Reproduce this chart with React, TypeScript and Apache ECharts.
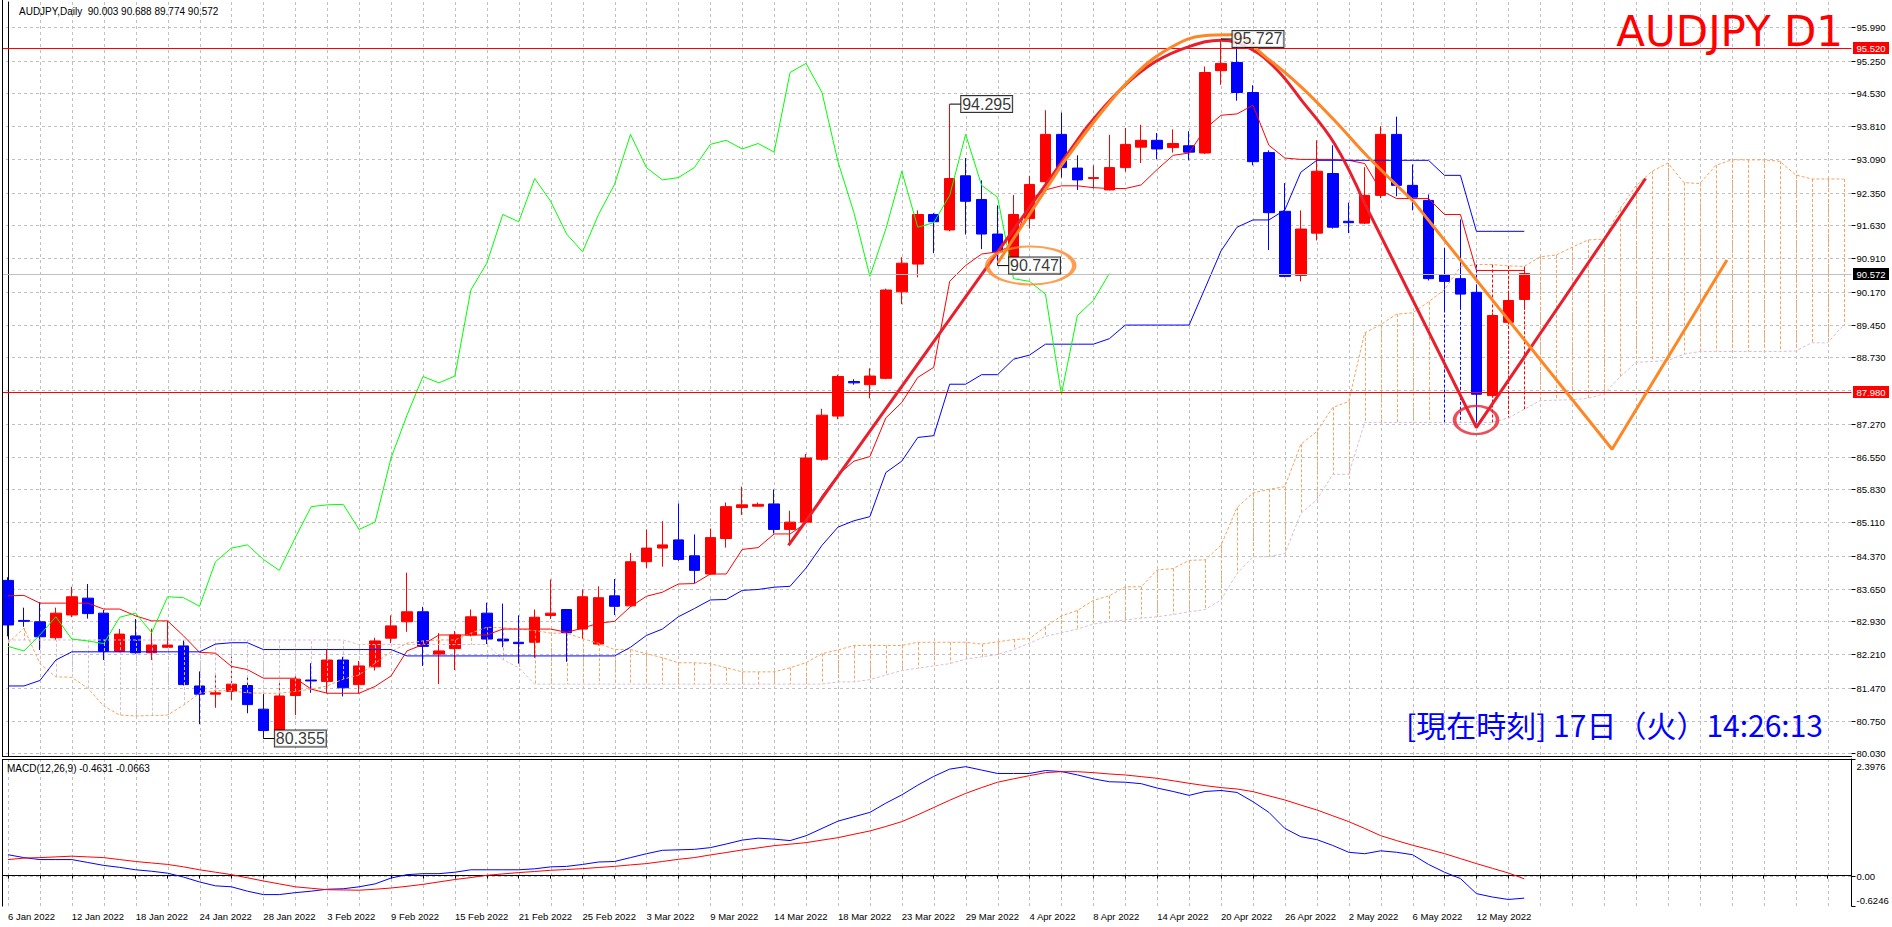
import React, { useEffect, useRef } from "react";
import * as echarts from "echarts";

// ---------- data ----------
const dates = ["6 Jan 2022","7 Jan 2022","10 Jan 2022","11 Jan 2022","12 Jan 2022","13 Jan 2022","14 Jan 2022","17 Jan 2022","18 Jan 2022","19 Jan 2022","20 Jan 2022","21 Jan 2022","24 Jan 2022","25 Jan 2022","26 Jan 2022","27 Jan 2022","28 Jan 2022","31 Jan 2022","1 Feb 2022","2 Feb 2022","3 Feb 2022","4 Feb 2022","7 Feb 2022","8 Feb 2022","9 Feb 2022","10 Feb 2022","11 Feb 2022","14 Feb 2022","15 Feb 2022","16 Feb 2022","17 Feb 2022","18 Feb 2022","21 Feb 2022","22 Feb 2022","23 Feb 2022","24 Feb 2022","25 Feb 2022","28 Feb 2022","1 Mar 2022","2 Mar 2022","3 Mar 2022","4 Mar 2022","7 Mar 2022","8 Mar 2022","9 Mar 2022","10 Mar 2022","11 Mar 2022","13 Mar 2022","14 Mar 2022","15 Mar 2022","16 Mar 2022","17 Mar 2022","18 Mar 2022","20 Mar 2022","21 Mar 2022","22 Mar 2022","23 Mar 2022","24 Mar 2022","25 Mar 2022","28 Mar 2022","29 Mar 2022","30 Mar 2022","31 Mar 2022","1 Apr 2022","4 Apr 2022","5 Apr 2022","6 Apr 2022","7 Apr 2022","8 Apr 2022","11 Apr 2022","12 Apr 2022","13 Apr 2022","14 Apr 2022","15 Apr 2022","18 Apr 2022","19 Apr 2022","20 Apr 2022","21 Apr 2022","22 Apr 2022","25 Apr 2022","26 Apr 2022","27 Apr 2022","28 Apr 2022","29 Apr 2022","2 May 2022","3 May 2022","4 May 2022","5 May 2022","6 May 2022","9 May 2022","10 May 2022","11 May 2022","12 May 2022","13 May 2022","16 May 2022","17 May 2022"];

const opens = [83.83,82.95,82.92,82.57,83.07,83.44,83.11,82.27,82.61,82.24,82.36,82.39,81.51,81.33,81.39,81.52,81.00,80.54,81.30,81.64,81.61,82.08,81.54,81.93,82.56,82.92,83.14,82.21,82.33,82.63,83.11,82.54,82.47,82.47,83.06,83.19,82.76,82.43,83.49,83.27,84.24,84.54,84.72,84.37,83.97,84.75,85.43,85.46,85.51,84.95,85.11,86.49,87.44,88.20,88.13,88.27,90.17,90.78,91.87,91.53,92.72,92.20,91.44,90.93,91.78,92.59,93.63,92.89,92.66,92.41,92.90,93.35,93.50,93.34,93.38,93.22,95.03,95.21,94.55,93.23,91.94,90.53,91.46,92.77,91.72,91.68,92.29,93.63,92.51,92.18,90.55,90.46,90.16,87.89,89.50,90.003];
const highs = [83.90,83.23,83.35,83.23,83.69,83.75,83.18,82.76,82.98,82.77,82.94,82.51,81.83,81.77,82.15,81.73,81.33,81.62,81.75,82.01,82.30,82.15,82.06,82.57,83.06,84.00,83.25,82.67,82.72,83.19,83.34,83.32,83.06,83.19,83.85,83.20,83.63,83.70,83.86,84.43,84.95,85.13,85.52,84.84,84.97,85.54,85.89,85.54,85.83,85.36,86.61,87.60,88.35,88.25,88.49,90.24,90.93,91.96,91.90,94.295,93.11,92.62,92.07,92.30,92.72,94.16,94.11,93.17,92.95,93.62,93.77,93.84,93.66,93.74,93.70,95.12,95.727,95.62,94.71,93.28,92.56,91.96,93.50,93.39,92.13,92.91,93.81,94.02,92.97,92.31,91.14,91.76,90.31,89.70,90.16,90.688];
const lows = [82.60,82.81,82.30,82.52,83.02,82.99,82.08,82.25,82.22,82.08,82.35,81.52,80.67,81.03,81.20,80.91,80.355,80.50,80.87,81.36,81.35,81.28,81.35,81.85,82.45,82.70,81.95,81.55,81.86,82.60,82.43,82.36,82.00,82.13,82.98,82.04,82.54,82.40,83.07,83.25,84.10,84.13,84.26,83.77,83.95,84.55,85.27,85.45,84.86,84.60,85.08,86.46,87.37,88.13,87.83,88.25,89.90,90.49,91.02,91.50,91.43,91.11,90.747,90.90,91.56,92.55,92.68,92.41,92.44,92.40,92.81,93.00,93.08,93.23,93.06,93.20,94.72,94.37,92.95,91.09,90.49,90.40,91.30,91.56,91.46,91.66,92.23,92.27,91.96,90.42,89.73,89.83,87.28,87.85,89.45,89.774];
const closes = [82.85,82.93,82.59,83.11,83.47,83.10,82.27,82.65,82.24,82.41,82.41,81.54,81.33,81.36,81.55,81.10,80.53,81.29,81.66,81.62,82.08,81.47,81.95,82.50,82.83,83.14,82.38,82.28,82.63,83.03,82.54,82.50,82.44,83.02,83.11,82.68,83.47,83.45,83.26,84.24,84.54,84.61,84.29,84.05,84.77,85.45,85.49,85.50,84.95,85.11,86.52,87.46,88.31,88.17,88.32,90.21,90.80,91.87,91.71,92.66,92.16,91.44,91.05,91.87,92.53,93.63,92.90,92.63,92.68,92.90,93.41,93.50,93.31,93.43,93.24,94.99,95.19,94.55,93.03,91.91,90.51,91.55,92.82,91.59,91.69,92.29,93.63,92.51,92.25,90.46,90.40,90.12,87.92,89.65,89.98,90.572];

const tenkan = [83.49,83.50,83.33,83.33,83.33,83.33,83.20,83.20,83.05,82.94,82.94,82.61,82.25,82.23,81.94,81.87,81.68,81.68,81.68,81.44,81.35,81.35,81.35,81.50,81.73,82.28,82.42,82.63,82.63,82.63,82.63,82.76,82.76,82.76,82.76,82.69,82.78,82.89,82.93,83.25,83.48,83.57,83.75,83.76,83.97,83.97,84.51,84.55,84.85,84.85,85.09,85.69,86.15,86.45,86.55,87.40,87.74,88.29,88.51,90.40,90.75,91.00,91.05,91.20,92.20,92.41,92.50,92.50,92.46,92.44,92.44,92.52,92.86,93.17,93.22,93.75,94.05,94.08,94.27,93.39,93.11,93.08,93.08,93.08,93.06,92.99,92.40,92.22,92.22,92.22,91.87,91.87,90.64,90.64,90.64,90.64];
const kijun = [81.51,81.51,81.63,82.08,82.26,82.26,82.26,82.26,82.26,82.26,82.26,82.26,82.26,82.43,82.46,82.46,82.31,82.31,82.31,82.31,82.31,82.31,82.31,82.31,82.31,82.17,82.17,82.17,82.17,82.17,82.17,82.17,82.17,82.17,82.17,82.17,82.17,82.17,82.17,82.36,82.62,82.76,83.03,83.21,83.40,83.41,83.61,83.63,83.68,83.70,84.10,84.60,85.00,85.14,85.23,86.20,86.45,86.97,87.01,88.14,88.14,88.35,88.35,88.69,88.78,89.02,89.02,89.02,89.02,89.14,89.44,89.44,89.44,89.44,89.44,90.25,91.07,91.59,91.75,91.75,91.97,92.80,93.06,93.06,93.06,93.06,93.06,93.06,93.06,93.06,92.73,92.73,91.50,91.50,91.50,91.50];
const senkouA = [82.45,82.78,82.00,81.71,81.70,81.46,81.07,80.87,80.85,80.86,80.87,81.09,81.35,81.41,81.40,81.36,81.35,81.35,81.39,81.44,81.51,81.66,81.75,82.01,82.26,82.45,82.50,82.52,82.52,82.67,82.80,82.79,82.76,82.73,82.67,82.67,82.55,82.45,82.31,82.31,82.22,82.13,82.02,82.02,82.00,81.91,81.82,81.82,81.82,81.91,82.02,82.22,82.30,82.40,82.40,82.40,82.40,82.47,82.47,82.47,82.47,82.43,82.48,82.53,82.55,82.81,83.05,83.17,83.39,83.49,83.69,83.69,84.06,84.09,84.27,84.28,84.60,85.43,85.75,85.83,85.89,86.82,87.10,87.63,87.76,89.27,89.45,89.68,89.71,89.95,90.22,90.72,90.77,90.77,90.74,90.73,90.94,90.98,91.15,91.31,91.33,92.00,92.50,92.82,93.00,92.57,92.55,92.95,93.07,93.07,93.07,93.04,92.74,92.65,92.65,92.65];
const senkouB = [82.52,82.52,82.52,82.52,82.52,82.52,82.52,82.52,82.52,82.52,82.52,82.52,82.52,82.52,82.52,82.52,82.52,82.52,82.52,82.52,82.52,82.52,82.42,82.42,82.42,82.42,82.42,82.42,82.42,82.42,82.42,82.09,81.91,81.55,81.55,81.55,81.55,81.55,81.55,81.55,81.55,81.55,81.55,81.55,81.55,81.55,81.55,81.55,81.55,81.55,81.55,81.55,81.60,81.60,81.65,81.75,81.85,81.90,81.95,82.00,82.10,82.15,82.20,82.31,82.45,82.60,82.68,82.76,82.87,82.92,82.96,83.00,83.03,83.08,83.14,83.19,83.40,83.98,84.35,84.35,84.42,85.30,85.60,86.16,86.16,87.30,87.30,87.30,87.30,87.30,87.30,87.30,87.30,87.30,87.40,87.59,87.78,87.79,87.80,87.83,87.93,88.30,88.62,88.64,88.66,88.80,88.86,88.86,88.86,88.86,88.86,88.86,88.87,89.05,89.05,89.44];

const macdMain = [0.43,0.37,0.33,0.33,0.33,0.27,0.21,0.17,0.12,0.09,0.05,-0.03,-0.13,-0.21,-0.23,-0.32,-0.39,-0.39,-0.35,-0.32,-0.28,-0.27,-0.23,-0.17,-0.05,0.02,0.04,0.04,0.07,0.12,0.12,0.12,0.12,0.14,0.18,0.19,0.23,0.28,0.29,0.37,0.45,0.52,0.53,0.54,0.575,0.65,0.73,0.77,0.75,0.72,0.82,0.97,1.12,1.21,1.30,1.49,1.66,1.86,2.04,2.19,2.24,2.17,2.10,2.10,2.10,2.16,2.14,2.07,1.99,1.93,1.92,1.89,1.80,1.73,1.65,1.73,1.75,1.71,1.52,1.30,0.97,0.80,0.74,0.62,0.48,0.45,0.51,0.48,0.43,0.23,0.07,-0.06,-0.37,-0.44,-0.49,-0.463];
const macdSignal = [0.33,0.36,0.37,0.385,0.40,0.385,0.37,0.33,0.29,0.26,0.23,0.18,0.12,0.07,0.02,-0.045,-0.11,-0.17,-0.23,-0.26,-0.29,-0.295,-0.30,-0.28,-0.255,-0.22,-0.18,-0.13,-0.08,-0.04,0.006,0.035,0.062,0.085,0.11,0.125,0.144,0.167,0.19,0.22,0.247,0.29,0.335,0.37,0.425,0.475,0.527,0.57,0.616,0.647,0.678,0.73,0.78,0.85,0.918,1.01,1.11,1.25,1.40,1.55,1.69,1.81,1.92,1.99,2.055,2.117,2.137,2.137,2.117,2.09,2.069,2.035,2.00,1.95,1.898,1.85,1.809,1.781,1.727,1.64,1.555,1.45,1.35,1.23,1.11,0.97,0.822,0.72,0.625,0.54,0.452,0.35,0.247,0.15,0.054,-0.066];

const priceGrid = [80.03,80.75,81.47,82.21,82.93,83.65,84.37,85.11,85.83,86.55,87.27,88.01,88.73,89.45,90.17,90.91,91.63,92.35,93.09,93.81,94.53,95.25,95.99];
const priceTickLabels = ["80.030","80.750","81.470","82.210","82.930","83.650","84.370","85.110","85.830","86.550","87.270","88.730","89.450","90.170","90.910","91.630","92.350","93.090","93.810","94.530","95.250","95.990"];
const macdTicks = [2.3976, 0, -0.6246];
const macdTickLabels = ["2.3976", "0.00", "-0.6246"];
const macdGrid = [0];

const levelPrices = [95.52, 87.98, 90.572];
const levelLabels = ["95.520", "87.980", "90.572"];

const tagIdx = [59, 62, 16, 76];
const tagPrices = [94.295, 90.747, 80.355, 95.727];
const tagLabels = ["94.295", "90.747", "80.355", "95.727"];

// hand-drawn analysis lines (bar index, price)
const redRise = [[48.9, 84.6], [67.5, 93.75]];
const redArc = [[67.5, 93.75], [69.8, 94.65], [71.9, 95.23], [74.0, 95.56], [76.0, 95.7], [77.9, 95.5], [79.5, 95.05], [81.0, 94.4], [83.1, 93.43], [85.0, 92.11]];
const redFall = [[85.0, 92.11], [92.0, 87.19], [102.6, 92.66]];
const orangeRise = [[62.0, 90.8], [66.0, 92.95]];
const orangeArc = [[66.0, 92.95], [68.7, 94.2], [70.8, 95.01], [72.9, 95.55], [74.9, 95.8], [76.6, 95.82], [78.9, 95.3], [81.0, 94.68], [83.1, 93.94], [85.2, 93.14], [88.0, 92.18]];
const orangeFall = [[88.0, 92.18], [100.5, 86.71], [107.7, 90.87]];
const orangeRing = [[64.08, 90.748]];
const redRing = [[91.98, 87.355]];

const headerText = "AUDJPY,Daily  90.003 90.688 89.774 90.572";
const macdText = "MACD(12,26,9) -0.4631 -0.0663";
const titleText = "AUDJPY D1";
const clockText = "[現在時刻] 17日（火）14:26:13";

const CHIKOU_SHIFT = 26;
const FUTURE_BARS = 20;

// ---------- styles ----------
const FONT = "'Liberation Sans', Arial, sans-serif";
const GRIDC = "#c0c0c0";
const BULL = "#ff0000";
const BEAR = "#0000ff";
const SANDY = "#f4a460";
const THISTLE = "#d8bfd8";
const DRAW_RED = "#e8202e";
const DRAW_ORANGE = "#ff8624";
const MAIN_MIN = 79.971;
const MAIN_MAX = 96.539;
const MACD_MIN = -0.6246;
const MACD_MAX = 2.3976;
const TINT_FROM = 90;

export default function App() {
  const ref = useRef<HTMLDivElement>(null);

  useEffect(() => {
    document.body.style.margin = "0";
    const chart = echarts.init(ref.current as HTMLDivElement, null, { renderer: "svg" });

    const total = dates.length + FUTURE_BARS;
    const cats = Array.from({ length: total }, (_, i) => (i < dates.length ? dates[i] : "f" + i));
    const vGridIdx = Array.from({ length: Math.floor(total / 2) }, (_, k) => k * 2);

    const vGrid = (xi: number, yi: number, ymin: number) => ({
      type: "custom",
      xAxisIndex: xi,
      yAxisIndex: yi,
      silent: true,
      z: 0,
      encode: { x: 0, y: 1 },
      data: vGridIdx.map((i) => [i, ymin]),
      renderItem: (params: any, api: any) => {
        const cs = params.coordSys;
        const x = Math.round(api.coord([api.value(0), api.value(1)])[0]) + 0.5;
        return { type: "line", shape: { x1: x, y1: cs.y, x2: x, y2: cs.y + cs.height }, style: { stroke: GRIDC, lineWidth: 1, lineDash: [3, 3] } };
      },
    });

    const hGrid = (xi: number, yi: number, vals: number[]) => ({
      type: "custom",
      xAxisIndex: xi,
      yAxisIndex: yi,
      silent: true,
      z: 0,
      encode: { x: 0, y: 1 },
      data: vals.map((v) => [0, v]),
      renderItem: (params: any, api: any) => {
        const cs = params.coordSys;
        const y = Math.round(api.coord([0, api.value(1)])[1]) + 0.5;
        return { type: "line", shape: { x1: cs.x, y1: y, x2: cs.x + cs.width, y2: y }, style: { stroke: GRIDC, lineWidth: 1, lineDash: [3, 3] } };
      },
    });

    const axisLabels = (xi: number, yi: number, vals: number[], labels: string[], shifts: number[] | null) => ({
      type: "custom",
      xAxisIndex: xi,
      yAxisIndex: yi,
      silent: true,
      z: 1,
      encode: { x: 0, y: 1 },
      data: vals.map((v) => [0, v]),
      renderItem: (params: any, api: any) => {
        const cs = params.coordSys;
        const i = params.dataIndex;
        const yv = Math.round(api.coord([0, api.value(1)])[1]) + 0.5;
        const right = cs.x + cs.width;
        const ty = yv + (shifts ? shifts[i] : 0);
        return {
          type: "group",
          children: [
            { type: "line", shape: { x1: right, y1: yv, x2: right + 4, y2: yv }, style: { stroke: "#000", lineWidth: 1 } },
            {
              type: "text",
              style: { text: labels[i], x: right + 5, y: ty, fill: "#000", fontSize: 9.5, fontFamily: FONT, align: "left", verticalAlign: "middle", textAlign: "left", textVerticalAlign: "middle" },
            },
          ],
        };
      },
    });

    const lineSeries = (data: any[], color: string, width: number, extra: any = {}) => ({
      type: "line",
      data,
      symbol: "none",
      showSymbol: false,
      silent: true,
      lineStyle: { color, width, ...(extra.lineStyle || {}) },
      z: extra.z ?? 4,
      xAxisIndex: extra.xAxisIndex ?? 0,
      yAxisIndex: extra.yAxisIndex ?? 0,
      smooth: extra.smooth ?? false,
      connectNulls: false,
    });

    const levelColors = ["#ff0000", "#ff0000", GRIDC];
    const levelBoxColors = ["#ff0000", "#ff0000", "#000000"];

    const series: any[] = [
      vGrid(0, 0, MAIN_MIN),
      hGrid(0, 0, priceGrid),
      axisLabels(0, 0, priceTickLabels.map((s) => parseFloat(s)), priceTickLabels, null),
      lineSeries(senkouA, SANDY, 1, { lineStyle: { type: [3, 2] }, z: 3 }),
      lineSeries(senkouB, THISTLE, 1, { lineStyle: { type: [3, 2] }, z: 3 }),
      {
        type: "candlestick",
        xAxisIndex: 0,
        yAxisIndex: 0,
        silent: true,
        z: 2,
        barWidth: 11,
        data: opens.map((o, i) => [o, closes[i], lows[i], highs[i]]),
        itemStyle: { color: BULL, color0: BEAR, borderColor: BULL, borderColor0: BEAR, borderWidth: 1 },
      },
      {
        type: "custom",
        xAxisIndex: 0,
        yAxisIndex: 0,
        silent: true,
        z: 3,
        encode: { x: 0, y: [1, 2] },
        data: senkouA.map((a, i) => [i, a, senkouB[i]]),
        renderItem: (params: any, api: any) => {
          const i = api.value(0);
          const a = api.value(1);
          const b = api.value(2);
          const p1 = api.coord([i, a]);
          const p2 = api.coord([i, b]);
          let color = a >= b ? SANDY : THISTLE;
          if (i >= TINT_FROM && i < opens.length) color = closes[i] >= opens[i] ? BULL : BEAR;
          const x = Math.round(p1[0]) + 0.5;
          return { type: "line", shape: { x1: x, y1: p1[1], x2: x, y2: p2[1] }, style: { stroke: color, lineWidth: 1, lineDash: [3, 2] } };
        },
      },
      lineSeries(tenkan, "#ff0000", 1),
      lineSeries(kijun, "#0000ff", 1),
      lineSeries(closes.slice(CHIKOU_SHIFT), "#00ff00", 1),
      {
        type: "custom",
        xAxisIndex: 0,
        yAxisIndex: 0,
        silent: true,
        z: 5,
        encode: { x: 0, y: 1 },
        data: levelPrices.map((v) => [0, v]),
        renderItem: (params: any, api: any) => {
          const cs = params.coordSys;
          const i = params.dataIndex;
          const y = Math.round(api.coord([0, api.value(1)])[1]) + 0.5;
          const right = cs.x + cs.width;
          return {
            type: "group",
            children: [
              { type: "line", shape: { x1: cs.x, y1: y, x2: right, y2: y }, style: { stroke: levelColors[i], lineWidth: 1 } },
              { type: "rect", shape: { x: right + 1.5, y: y - 6.5, width: 36, height: 12 }, style: { fill: levelBoxColors[i] } },
              {
                type: "text",
                style: { text: levelLabels[i], x: right + 5, y: y, fill: "#ffffff", fontSize: 9.5, fontFamily: FONT, align: "left", verticalAlign: "middle", textAlign: "left", textVerticalAlign: "middle" },
              },
            ],
          };
        },
      },
      lineSeries(redRise, DRAW_RED, 3, { xAxisIndex: 1, z: 6 }),
      lineSeries(redArc, DRAW_RED, 3, { xAxisIndex: 1, z: 6, smooth: 0.4 }),
      lineSeries(redFall, DRAW_RED, 3, { xAxisIndex: 1, z: 6 }),
      lineSeries(orangeRise, DRAW_ORANGE, 3, { xAxisIndex: 1, z: 6 }),
      lineSeries(orangeArc, DRAW_ORANGE, 3, { xAxisIndex: 1, z: 6, smooth: 0.4 }),
      lineSeries(orangeFall, DRAW_ORANGE, 3, { xAxisIndex: 1, z: 6 }),
      {
        type: "scatter",
        xAxisIndex: 1,
        yAxisIndex: 0,
        silent: true,
        z: 6,
        data: orangeRing,
        symbol: "circle",
        symbolSize: [87, 38],
        itemStyle: { color: "rgba(0,0,0,0)", borderColor: DRAW_ORANGE, borderWidth: 3 },
      },
      {
        type: "scatter",
        xAxisIndex: 1,
        yAxisIndex: 0,
        silent: true,
        z: 6,
        data: redRing,
        symbol: "circle",
        symbolSize: [43, 28],
        itemStyle: { color: "rgba(0,0,0,0)", borderColor: DRAW_RED, borderWidth: 3 },
      },
      ...tagIdx.map((ix, k) =>
        lineSeries([[ix, tagPrices[k]], [ix + 0.7, tagPrices[k]]], "#000000", 1, { xAxisIndex: 1, z: 7 })
      ),
      {
        type: "scatter",
        xAxisIndex: 1,
        yAxisIndex: 0,
        silent: true,
        z: 8,
        data: tagIdx.map((ix, k) => [ix, tagPrices[k]]),
        symbolSize: 1,
        itemStyle: { color: "rgba(0,0,0,0)" },
        label: {
          show: true,
          position: "right",
          distance: 11,
          formatter: (p: any) => tagLabels[p.dataIndex],
          fontSize: 16,
          fontFamily: FONT,
          color: "#000",
          backgroundColor: "#fff",
          borderColor: "#000",
          borderWidth: 1,
          padding: [1, 1, 0, 1],
          lineHeight: 15,
        },
      },
      // MACD panel
      vGrid(2, 1, MACD_MIN),
      hGrid(2, 1, macdGrid),
      axisLabels(2, 1, macdTicks, macdTickLabels, [7, 0, -6]),
      lineSeries(macdMain, "#0000ff", 1, { xAxisIndex: 2, yAxisIndex: 1 }),
      lineSeries(macdSignal, "#ff0000", 1, { xAxisIndex: 2, yAxisIndex: 1 }),
    ];

    const option: any = {
      animation: false,
      backgroundColor: "#ffffff",
      grid: [
        { left: -4.5, top: 2, width: 1856, height: 754 },
        { left: -4.5, top: 759, width: 1856, height: 147 },
      ],
      xAxis: [
        {
          type: "category", gridIndex: 0, data: cats, boundaryGap: true,
          axisLine: { show: true, lineStyle: { color: "#000", width: 1 } },
          axisTick: { show: false }, axisLabel: { show: false }, splitLine: { show: false },
        },
        { type: "value", gridIndex: 0, min: -0.5, max: total - 0.5, show: false, splitLine: { show: false } },
        {
          type: "category", gridIndex: 1, data: cats, boundaryGap: true,
          axisLine: { show: true, lineStyle: { color: "#000", width: 1 } },
          axisTick: { show: true, alignWithLabel: true, interval: 1, length: 3, lineStyle: { color: "#000" } },
          axisLabel: {
            interval: 3, align: "left", fontSize: 9.5, fontFamily: FONT, color: "#000", margin: 5,
            formatter: (v: string, i: number) => (i < dates.length ? v : ""),
          },
          splitLine: { show: false },
        },
      ],
      yAxis: [
        {
          type: "value", gridIndex: 0, position: "right", min: MAIN_MIN, max: MAIN_MAX, scale: true,
          axisLine: { show: true, lineStyle: { color: "#000", width: 1 } },
          axisTick: { show: false }, axisLabel: { show: false }, splitLine: { show: false },
        },
        {
          type: "value", gridIndex: 1, position: "right", min: MACD_MIN, max: MACD_MAX, scale: true,
          axisLine: { show: true, lineStyle: { color: "#000", width: 1 } },
          axisTick: { show: false }, axisLabel: { show: false }, splitLine: { show: false },
        },
      ],
      series,
      graphic: [
        { type: "rect", z: 100, shape: { x: 0, y: 0, width: 2, height: 927 }, style: { fill: "#fff" } },
        { type: "line", z: 101, shape: { x1: 2.5, y1: 0, x2: 2.5, y2: 756.5 }, style: { stroke: "#000", lineWidth: 1 } },
        { type: "line", z: 101, shape: { x1: 2.5, y1: 759.5, x2: 2.5, y2: 906.5 }, style: { stroke: "#000", lineWidth: 1 } },
        { type: "line", z: 101, shape: { x1: 2, y1: 759.5, x2: 1852, y2: 759.5 }, style: { stroke: "#000", lineWidth: 1 } },
        {
          type: "text", z: 102, x: 19, y: 11,
          style: { text: headerText, fill: "#000", fontSize: 10, fontFamily: FONT, align: "left", verticalAlign: "middle", textAlign: "left", textVerticalAlign: "middle" },
        },
        {
          type: "text", z: 102, x: 7, y: 768,
          style: { text: macdText, fill: "#000", fontSize: 10, fontFamily: FONT, align: "left", verticalAlign: "middle", textAlign: "left", textVerticalAlign: "middle" },
        },
        {
          type: "text", z: 102, x: 1843, y: 31,
          style: { text: titleText, fill: "#ff0000", fontSize: 42, fontFamily: "'DejaVu Sans', sans-serif", align: "right", verticalAlign: "middle", textAlign: "right", textVerticalAlign: "middle" },
        },
        {
          type: "text", z: 102, x: 1823, y: 724,
          style: { text: clockText, fill: "#0000ff", fontSize: 30, fontFamily: "'Noto Sans CJK JP', sans-serif", align: "right", verticalAlign: "middle", textAlign: "right", textVerticalAlign: "middle" },
        },
      ],
    };

    chart.setOption(option);
    return () => chart.dispose();
  }, []);

  return <div ref={ref} style={{ width: 1892, height: 927, background: "#ffffff" }} />;
}
